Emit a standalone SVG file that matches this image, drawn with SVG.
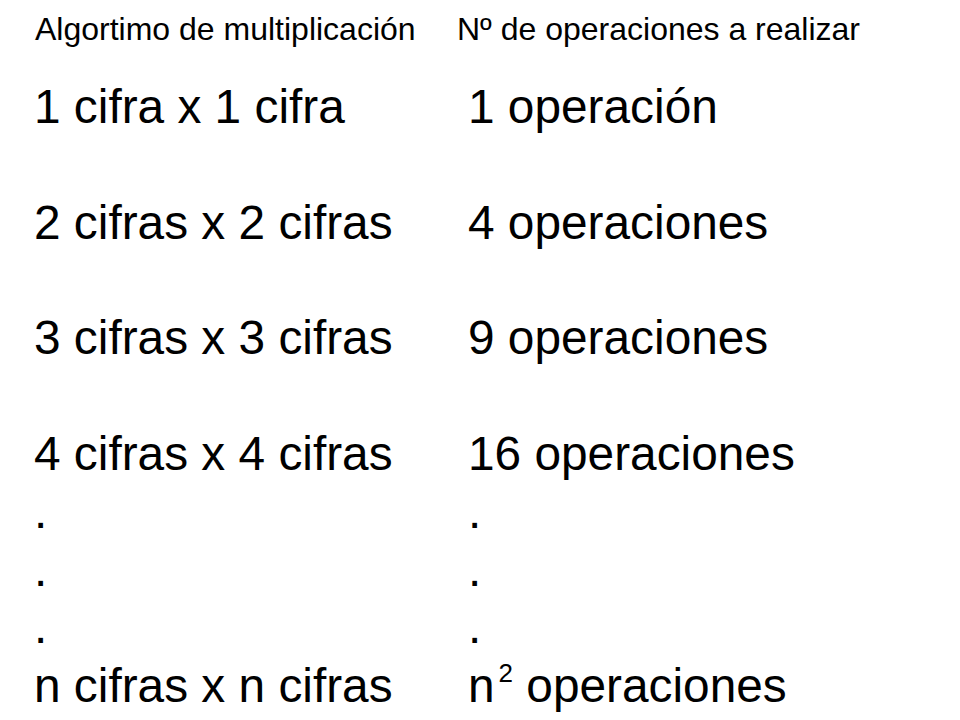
<svg xmlns="http://www.w3.org/2000/svg" width="960" height="720" viewBox="0 0 960 720">
<style>
text{font-family:"Liberation Sans",Arial,sans-serif;fill:#000}
.h{font-size:32px}
.b{font-size:47.8px}
.sup{font-size:26px}
</style>
<rect width="960" height="720" fill="#fff"/>
<g id="header">
<text class="h" x="35" y="40">Algortimo de multiplicación</text>
<text class="h" x="457" y="40">Nº de operaciones a realizar</text>
</g>
<g id="left">
<text class="b" x="34" y="123">1 cifra x 1 cifra</text>
<text class="b" x="34" y="239">2 cifras x 2 cifras</text>
<text class="b" x="34" y="354">3 cifras x 3 cifras</text>
<text class="b" x="34" y="470">4 cifras x 4 cifras</text>
<text class="b" x="34" y="528">.</text>
<text class="b" x="34" y="586">.</text>
<text class="b" x="34" y="643">.</text>
<text class="b" x="34" y="702">n cifras x n cifras</text>
</g>
<g id="right">
<text class="b" x="468" y="123">1 operación</text>
<text class="b" x="468" y="239">4 operaciones</text>
<text class="b" x="468" y="354">9 operaciones</text>
<text class="b" x="468" y="470">16 operaciones</text>
<text class="b" x="468" y="528">.</text>
<text class="b" x="468" y="586">.</text>
<text class="b" x="468" y="643">.</text>
<text class="b" x="468" y="702">n<tspan class="sup" dx="4" dy="-20">2</tspan><tspan dy="20"> operaciones</tspan></text>
</g>
<g id="connectors"/>
</svg>
